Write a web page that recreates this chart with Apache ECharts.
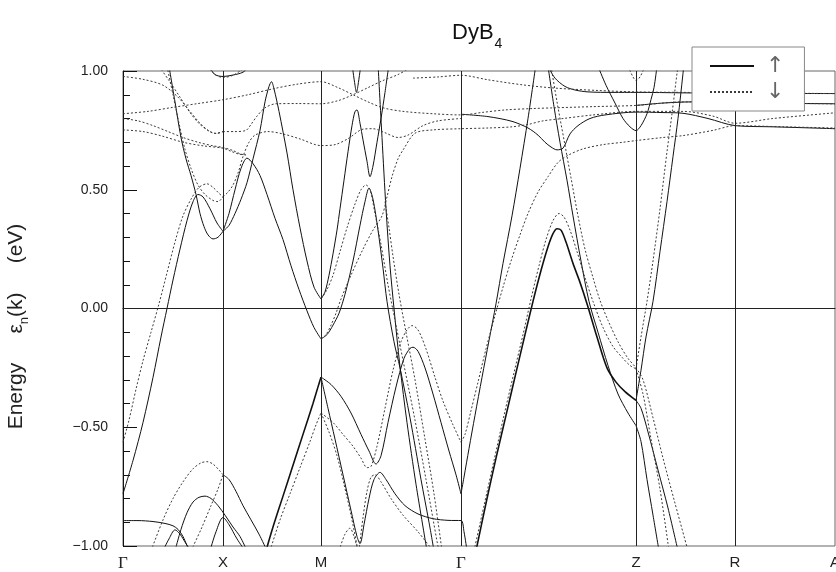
<!DOCTYPE html>
<html><head><meta charset="utf-8">
<script src="https://cdn.jsdelivr.net/npm/echarts@6/dist/echarts.min.js"></script>
<style>html,body{margin:0;padding:0;background:#fff}#c{width:836px;height:572px}</style>
</head><body><div id="c"></div>
<script>
// symmetry points (k-path distance) and labels
const kPoints = [0, 100, 198, 338, 513, 612, 712];
const kLabels = ['Γ', 'X', 'M', 'Γ', 'Z', 'R', 'A'];
const yTicks = [-1, -0.5, 0, 0.5, 1];

// ---- spin up bands [k, E(eV)] ----
const up01 = [[0,-0.78],[10,-0.64],[20,-0.48],[30,-0.29],[38,-0.12],[44,0.0],[50,0.12],[57,0.25],[64,0.37],[70,0.45],[75,0.48],[80,0.47],[87,0.42],[94,0.36],[100,0.325]];
const up02 = [[100,0.325],[106,0.40],[112,0.50],[118,0.59],[124,0.633],[130,0.61],[137,0.56],[144,0.48],[152,0.38],[160,0.29],[168,0.18],[176,0.08],[184,-0.01],[191,-0.08],[198,-0.128]];
const up03 = [[198,-0.128],[204,-0.11],[210,-0.07],[216,-0.02],[222,0.06],[230,0.2],[237,0.35],[242,0.45],[246,0.507],[250,0.46],[255,0.33],[260,0.17],[264,0.03],[271,-0.14],[277,-0.25],[287,-0.46],[298,-0.72],[306,-0.9],[311,-1.02]];
const up04 = [[46,1.02],[52,0.87],[58,0.72],[63,0.63],[68,0.56],[73,0.48],[77,0.40],[81,0.345],[85,0.31],[90,0.293],[95,0.30],[100,0.325]];
const up05 = [[100,0.325],[106,0.35],[112,0.40],[118,0.46],[124,0.53],[130,0.63],[137,0.75],[142,0.87],[146,0.935],[148.5,0.955],[151,0.925],[156,0.83],[164,0.655],[170,0.50],[177,0.34],[184,0.2],[191,0.09],[198,0.04]];
const up06 = [[198,0.04],[202,0.07],[206,0.14],[210,0.23],[214,0.33],[217,0.42],[221,0.54],[225,0.66],[229,0.77],[232,0.83],[234,0.836],[237,0.78],[240,0.71],[244,0.62],[247,0.555],[250,0.6],[254,0.7],[258,0.8],[262,0.91],[266,1.03]];
const up07 = [[229,1.03],[232,0.94],[233.5,0.91],[235,0.94],[238,1.03]];
const up08 = [[255,1.03],[259,0.72],[263,0.42],[267,0.18],[271,0.0],[277,-0.245],[284,-0.48],[293,-0.74],[304,-1.02]];
const up09 = [[86,1.02],[92,0.985],[100,0.977],[110,0.983],[120,0.995],[126,1.02]];
const up10 = [[0,-0.893],[15,-0.893],[30,-0.897],[42,-0.905],[50,-0.915],[55,-0.93],[60,-0.96],[66,-1.02]];
const up11 = [[40,-1.02],[46,-0.97],[52,-0.932],[57,-0.95],[63,-0.99],[68,-1.02]];
const up12 = [[52,-1.02],[58,-0.93],[64,-0.86],[70,-0.815],[76,-0.795],[82,-0.79],[88,-0.80],[95,-0.83],[102,-0.87],[110,-0.92],[117,-0.96],[124,-1.02]];
const up13 = [[100,-0.70],[106,-0.72],[113,-0.77],[120,-0.83],[128,-0.89],[136,-0.95],[144,-1.02]];
const up14 = [[87,-1.02],[93,-0.94],[100,-0.88],[106,-0.91],[114,-0.97],[122,-1.02]];
const up15 = [[143,-1.02],[150,-0.92],[160,-0.79],[170,-0.66],[180,-0.53],[190,-0.40],[195,-0.33],[198,-0.289]];
const up16 = [[198,-0.289],[208,-0.32],[218,-0.37],[228,-0.44],[238,-0.53],[246,-0.60],[253,-0.655],[258,-0.62],[265,-0.48],[273,-0.33],[281,-0.21],[287,-0.168],[290,-0.163],[295,-0.18],[302,-0.25],[310,-0.36],[318,-0.48],[326,-0.6],[333,-0.7],[338,-0.78]];
const up17 = [[198,-0.289],[205,-0.42],[212,-0.55],[220,-0.70],[228,-0.85],[234,-0.96],[237,-0.99],[241,-0.91],[246,-0.80],[251,-0.72],[257,-0.69],[263,-0.72],[272,-0.78],[282,-0.83],[295,-0.865],[310,-0.885],[325,-0.892],[338,-0.893],[341,-0.94],[344,-1.02]];
const up18 = [[338,-0.78],[341,-0.71],[346,-0.59],[352,-0.45],[359,-0.29],[366,-0.135],[373,0.02],[380,0.19],[389,0.39],[397,0.59],[405,0.80],[413,1.03]];
const up19 = [[353,-1.02],[363,-0.82],[373,-0.63],[383,-0.45],[393,-0.27],[402,-0.11],[410,0.03],[418,0.16],[425,0.26],[430,0.315],[434,0.336],[438,0.33],[443,0.28],[450,0.19],[457,0.11],[464,0.02],[474,-0.12],[484,-0.25],[493,-0.31],[502,-0.35],[513,-0.387]];
const up20 = [[513,-0.387],[518,-0.42],[525,-0.52],[535,-0.68],[545,-0.84],[555,-1.02]];
const up21 = [[425,1.02],[431,0.85],[437,0.70],[444,0.54],[450,0.39],[458,0.2],[466,0.03],[475,-0.1],[485,-0.24],[495,-0.36],[505,-0.44],[513,-0.493]];
const up22 = [[513,-0.493],[518,-0.56],[524,-0.72],[530,-0.87],[536,-1.02]];
const up23 = [[513,-0.387],[518,-0.26],[523,-0.12],[530,0.03],[537,0.24],[544,0.45],[550,0.64],[555,0.8],[560,0.99],[561,1.03]];
const up24 = [[338,0.818],[365,0.808],[389,0.788],[405,0.76],[415,0.73],[422,0.70],[428,0.68],[434,0.668],[440,0.675],[447,0.735],[455,0.77],[467,0.80],[482,0.815],[513,0.827],[540,0.825],[560,0.822],[585,0.80],[612,0.77],[650,0.765],[690,0.76],[712,0.757]];
const up25 = [[425,1.02],[432,0.97],[442,0.935],[452,0.92],[465,0.912],[490,0.91],[513,0.91],[560,0.908],[612,0.906],[712,0.905]];
const up26 = [[475,1.02],[483,0.94],[492,0.865],[500,0.80],[507,0.765],[513,0.749],[518,0.77],[524,0.82],[528,0.88],[531,0.93],[534,1.02]];
const up27 = [[513,0.855],[540,0.865],[570,0.87],[612,0.868],[660,0.864],[712,0.862]];

// ---- spin down bands [k, E(eV)] ----
const dn01 = [[0,-0.563],[6,-0.47],[13,-0.34],[20,-0.22],[28,-0.10],[36,0.02],[44,0.15],[52,0.28],[60,0.39],[68,0.46],[76,0.51],[84,0.525],[90,0.51],[96,0.485],[100,0.47]];
const dn02 = [[100,0.47],[105,0.49],[110,0.52],[115,0.57],[120,0.64],[126,0.70],[132,0.73],[145,0.745],[160,0.735],[177,0.714],[198,0.686],[212,0.69],[225,0.715],[240,0.755],[250,0.757],[262,0.74],[275,0.72],[285,0.73],[300,0.77],[315,0.79],[338,0.80]];
const dn03 = [[44,1.02],[50,0.9],[56,0.78],[62,0.67],[68,0.59],[75,0.52],[82,0.48],[90,0.455],[95,0.45],[100,0.47]];
const dn04 = [[0,0.977],[20,0.965],[40,0.94],[55,0.89],[66,0.835],[76,0.785],[85,0.75],[92,0.737],[100,0.745]];
const dn05 = [[36,1.02],[46,0.96],[57,0.89],[67,0.825],[77,0.775],[87,0.745],[94,0.737],[100,0.745]];
const dn06 = [[100,0.745],[112,0.745],[123,0.75],[128,0.775],[134,0.81],[142,0.845],[153,0.862],[175,0.863],[198,0.862],[215,0.875],[230,0.90],[245,0.93],[260,0.96],[275,0.985],[290,1.02]];
const dn07 = [[0,0.82],[25,0.83],[50,0.847],[75,0.863],[100,0.879],[125,0.90],[150,0.925],[175,0.945],[198,0.955],[215,0.93],[230,0.9],[245,0.87],[260,0.845],[280,0.83],[310,0.82],[338,0.815],[360,0.826],[382,0.836],[410,0.842],[432,0.845],[470,0.85],[513,0.855],[560,0.87],[612,0.868],[660,0.864],[712,0.862]];
const dn08 = [[0,0.80],[15,0.79],[30,0.77],[45,0.745],[60,0.72],[75,0.70],[90,0.685],[100,0.678],[110,0.665],[118,0.65],[123,0.647]];
const dn09 = [[0,0.752],[20,0.745],[40,0.725],[60,0.70],[80,0.685],[100,0.675],[108,0.662],[116,0.65],[123,0.647]];
const dn10 = [[198,0.04],[204,0.08],[210,0.14],[217,0.24],[224,0.34],[232,0.44],[238,0.50],[243,0.52],[247,0.50],[252,0.40],[258,0.27],[265,0.10],[273,-0.07],[282,-0.26],[292,-0.47],[303,-0.72],[314,-0.98],[316,-1.02]];
const dn11 = [[198,-0.128],[203,-0.11],[208,-0.07],[213,-0.02],[218,0.04],[228,0.14],[240,0.25],[250,0.33],[259,0.39],[264,0.47],[269,0.555],[275,0.63],[280,0.667],[292,0.738],[310,0.752],[338,0.757],[365,0.76],[389,0.765],[405,0.775],[420,0.79],[440,0.80],[470,0.815],[513,0.83],[560,0.83],[590,0.81],[612,0.78],[650,0.80],[712,0.824]];
const dn12 = [[262,0.45],[266,0.34],[270,0.22],[276,0.06],[283,-0.1],[292,-0.3],[302,-0.55],[311,-0.78],[319,-1.02]];
const dn13 = [[198,-0.44],[210,-0.48],[220,-0.53],[230,-0.58],[238,-0.63],[244,-0.67],[248,-0.665],[254,-0.58],[262,-0.42],[270,-0.26],[278,-0.14],[284,-0.09],[289,-0.072],[295,-0.09],[303,-0.17],[312,-0.29],[320,-0.39],[330,-0.49],[338,-0.563]];
const dn14 = [[198,-0.44],[206,-0.52],[214,-0.62],[221,-0.74],[228,-0.87],[235,-1.02]];
const dn15 = [[236,-1.02],[240,-0.88],[244,-0.77],[248,-0.71],[252,-0.70],[258,-0.73],[268,-0.80],[280,-0.87],[295,-0.94],[310,-1.02]];
const dn16 = [[216,-1.02],[222,-0.95],[227,-0.925],[231,-0.96],[235,-1.02]];
const dn17 = [[147,-1.02],[157,-0.89],[167,-0.78],[177,-0.67],[187,-0.56],[193,-0.49],[198,-0.44]];
const dn18 = [[28,-1.02],[40,-0.89],[50,-0.80],[60,-0.73],[70,-0.675],[78,-0.65],[84,-0.645],[90,-0.655],[96,-0.68],[100,-0.70]];
const dn19 = [[68,-1.02],[78,-0.93],[88,-0.83],[95,-0.76],[100,-0.70]];
const dn20 = [[338,-0.563],[342,-0.53],[348,-0.43],[355,-0.31],[363,-0.17],[372,-0.03],[380,0.09],[388,0.2],[397,0.31],[405,0.40],[415,0.49],[425,0.555],[435,0.615],[445,0.645],[460,0.672],[480,0.69],[500,0.70],[513,0.707],[540,0.72],[560,0.728],[590,0.75],[612,0.77],[660,0.765],[712,0.76]];
const dn21 = [[351,-1.02],[361,-0.83],[371,-0.64],[381,-0.45],[391,-0.27],[400,-0.11],[408,0.04],[416,0.18],[423,0.29],[430,0.37],[436,0.40],[441,0.385],[447,0.33],[454,0.24],[462,0.13],[470,0.03],[480,-0.08],[490,-0.16],[500,-0.21],[507,-0.24],[513,-0.254]];
const dn22 = [[513,-0.254],[520,-0.36],[528,-0.55],[537,-0.76],[546,-1.02]];
const dn23 = [[428,1.02],[434,0.87],[441,0.71],[448,0.55],[455,0.39],[462,0.25],[470,0.13],[477,0.034],[485,-0.05],[495,-0.14],[505,-0.21],[513,-0.25],[520,-0.30],[530,-0.46],[540,-0.63],[552,-0.82],[565,-1.02]];
const dn24 = [[513,-0.254],[518,-0.12],[524,0.03],[530,0.2],[537,0.42],[544,0.66],[549,0.82],[554,0.99],[555,1.02]];
const dn25 = [[290,0.97],[315,0.975],[338,0.982],[365,0.963],[399,0.942],[432,0.928],[475,0.918],[513,0.912],[560,0.91],[612,0.908],[712,0.905]];
const dn26 = [[84,1.02],[92,0.985],[100,0.973],[110,0.982],[124,1.02]];
const dn27 = [[505,1.02],[510,0.975],[513,0.96],[517,0.975],[522,1.02]];

const spinUp = [up01,up02,up03,up04,up05,up06,up07,up08,up09,up10,up11,up12,up13,up14,up15,up16,up17,up18,up19,up20,up21,up22,up23,up24,up25,up26,up27];
const spinDown = [dn01,dn02,dn03,dn04,dn05,dn06,dn07,dn08,dn09,dn10,dn11,dn12,dn13,dn14,dn15,dn16,dn17,dn18,dn19,dn20,dn21,dn22,dn23,dn24,dn25,dn26,dn27];
const boldUp = [up15, up19];

const FONT = 'Liberation Sans, Arial, Helvetica, sans-serif';
const series = [];
spinUp.forEach(d => series.push({
  name: '↑', type: 'line', data: d, symbol: 'none', smooth: 0.3, clip: true, silent: true,
  lineStyle: { color: '#111', width: boldUp.includes(d) ? 1.6 : 1, type: 'solid' }
}));
spinDown.forEach(d => series.push({
  name: '↓', type: 'line', data: d, symbol: 'none', smooth: 0.3, clip: true, silent: true,
  lineStyle: { color: '#3a3a3a', width: 1, type: [2, 2] }
}));
series.push({
  name: 'guides', type: 'line', data: [], silent: true,
  markLine: {
    symbol: 'none', silent: true, animation: false, label: { show: false },
    lineStyle: { color: '#222', width: 1, type: 'solid' },
    data: kPoints.slice(1, -1).map(k => ({ xAxis: k })).concat([{ yAxis: 0 }])
  }
});

const chart = echarts.init(document.getElementById('c'), null, { renderer: 'canvas' });
chart.setOption({
  animation: false,
  backgroundColor: '#fff',
  textStyle: { fontFamily: FONT },
  title: {
    text: '{a|DyB}{b|4}', left: 452, top: 15, padding: 0,
    textStyle: {
      fontWeight: 'normal',
      rich: {
        a: { fontSize: 22, fontFamily: FONT, color: '#111', fontWeight: 'normal' },
        b: { fontSize: 14, fontFamily: FONT, color: '#111', fontWeight: 'normal', padding: [22, 0, 0, 1] }
      }
    }
  },
  legend: {
    data: ['↑', '↓'], orient: 'vertical', left: 692, top: 47, z: 10,
    itemWidth: 44, itemHeight: 14, itemGap: 4,
    padding: [8, 20, 8, 17],
    backgroundColor: '#fff', borderColor: '#888', borderWidth: 1,
    selectedMode: false,
    itemStyle: { opacity: 0 },
    textStyle: { fontSize: 22, lineHeight: 16, color: '#666', padding: [0, 0, 0, 7], fontFamily: 'DejaVu Sans, sans-serif' }
  },
  grid: { left: 123, top: 71, width: 712, height: 475, show: true, borderColor: '#666', borderWidth: 1, containLabel: false, outerBoundsMode: 'none' },
  xAxis: {
    type: 'value', min: 0, max: 712,
    axisLine: { show: true, lineStyle: { color: '#111' } },
    axisTick: { show: false },
    splitLine: { show: false },
    axisLabel: {
      customValues: kPoints, showMinLabel: true, showMaxLabel: true, hideOverlap: false,
      margin: 9, fontSize: 15, color: '#222',
      formatter: v => {
        const i = kPoints.indexOf(v);
        const s = i >= 0 ? kLabels[i] : '';
        return s === 'Γ' ? '{g|Γ}' : s;
      },
      rich: { g: { fontFamily: 'Liberation Serif, DejaVu Serif, serif', fontSize: 17, color: '#222' } }
    }
  },
  yAxis: {
    type: 'value', min: -1, max: 1, interval: 0.5,
    axisLine: { show: true, lineStyle: { color: '#111' } },
    axisTick: { show: true, inside: true, length: 14, lineStyle: { color: '#111' } },
    minorTick: { show: true, splitNumber: 5, length: 7, lineStyle: { color: '#111' } },
    splitLine: { show: false },
    axisLabel: {
      margin: 15, fontSize: 14, color: '#222',
      formatter: v => (v < 0 ? '\u2212' : '') + Math.abs(v).toFixed(2)
    },
    name: '{a|Energy     ε}{s|n}{a|(k)     (eV)}',
    nameLocation: 'middle', nameRotate: 90, nameGap: 92,
    nameTextStyle: {
      padding: [0, 36, 0, 0],
      rich: {
        a: { fontSize: 21, fontFamily: FONT, color: '#222' },
        s: { fontSize: 13, fontFamily: FONT, color: '#222', padding: [16, 0, 0, 0] }
      }
    }
  },
  series: series
});
</script>
</body></html>
